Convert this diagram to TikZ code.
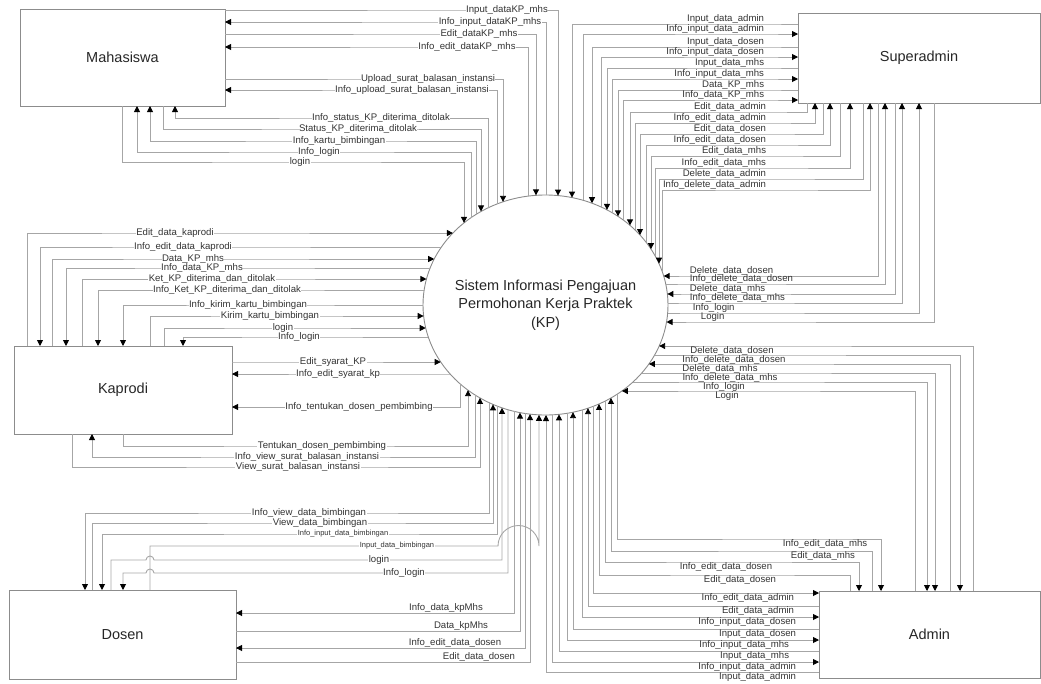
\documentclass[tikz,border=0pt]{standalone}
\usepackage{fontspec}
\setmainfont{Liberation Sans}
\usetikzlibrary{arrows.meta, shapes.geometric}

\tikzset{
  entity/.style={draw=black!45, line width=0.9pt, outer sep=0pt, text=black!85, font=\fontsize{14.5}{16}\selectfont},
  process/.style={ellipse, draw=black!45, line width=0.9pt, outer sep=0pt, inner sep=0pt, minimum width=245pt, minimum height=220pt},
  flow/.style={draw=black!35, line width=0.9pt, -{Triangle[length=6pt, width=6pt, color=black]}},
  lab/.style={font=\fontsize{9.6}{10}\selectfont, text=black!80, fill=white, inner sep=0.5pt},
  labo/.style={font=\fontsize{9.6}{10}\selectfont, text=black!80, inner sep=0.5pt},
}

\begin{document}
\begin{tikzpicture}[x=1pt, y=-1pt,
  declare function={
    sisT(\x)=305-110*sqrt(1-(\x-545.5)*(\x-545.5)/15006.25);
    sisB(\x)=305+110*sqrt(1-(\x-545.5)*(\x-545.5)/15006.25);
    sisL(\y)=545.5-122.5*sqrt(1-(\y-305)*(\y-305)/12100);
    sisR(\y)=545.5+122.5*sqrt(1-(\y-305)*(\y-305)/12100);
  }]
\useasboundingbox (0,0) rectangle (1041,683);

\node[process] (sis) at (545.5,305) {};
\node[align=center, text=black!85, font=\fontsize{14.5}{18.5}\selectfont] (sistxt) at (sis.center) {Sistem Informasi Pengajuan\\Permohonan Kerja Praktek\\(KP)};
\node[entity, minimum width=205pt, minimum height=97pt] (mhs) at (122.5,57.5) {Mahasiswa};
\node[entity, minimum width=242pt, minimum height=90pt] (sa) at (919,58) {Superadmin};
\node[entity, minimum width=218pt, minimum height=88pt] (kap) at (123,390) {Kaprodi};
\node[entity, minimum width=227pt, minimum height=89pt] (dos) at (122.5,634.5) {Dosen};
\node[entity, minimum width=221pt, minimum height=87pt] (adm) at (929.5,634.5) {Admin};

% Mahasiswa
\draw[flow] (mhs.east |- 0,10) -- (507,10) node[lab]{Input\_dataKP\_mhs} -- (558,10) -- (558,{sisT(558)});
\draw[flow] (546,{sisT(546)}) -- (546,22) -- (490,22) node[lab]{Info\_input\_dataKP\_mhs} -- (mhs.east |- 0,22);
\draw[flow] (mhs.east |- 0,34) -- (479,34) node[lab]{Edit\_dataKP\_mhs} -- (536,34) -- (536,{sisT(536)});
\draw[flow] (528,{sisT(528)}) -- (528,47) -- (467,47) node[lab]{Info\_edit\_dataKP\_mhs} -- (mhs.east |- 0,47);
\draw[flow] (mhs.east |- 0,79) -- (428,79) node[lab]{Upload\_surat\_balasan\_instansi} -- (503,79) -- (503,{sisT(503)});
\draw[flow] (497,{sisT(497)}) -- (497,90) -- (412,90) node[lab]{Info\_upload\_surat\_balasan\_instansi} -- (mhs.east |- 0,90);
\draw[flow] (488,{sisT(488)}) -- (488,118) -- (381,118) node[lab]{Info\_status\_KP\_diterima\_ditolak} -- (175,118) -- (mhs.south -| 175,0);
\draw[flow] (mhs.south -| 163,0) -- (163,129) -- (358,129) node[lab]{Status\_KP\_diterima\_ditolak} -- (481,129) -- (481,{sisT(481)});
\draw[flow] (476,{sisT(476)}) -- (476,141) -- (339,141) node[lab]{Info\_kartu\_bimbingan} -- (150,141) -- (mhs.south -| 150,0);
\draw[flow] (471,{sisT(471)}) -- (471,152) -- (319,152) node[lab]{Info\_login} -- (137,152) -- (mhs.south -| 137,0);
\draw[flow] (mhs.south -| 122,0) -- (122,162) -- (300,162) node[lab]{login} -- (464,162) -- (464,{sisT(464)});

% Superadmin
\draw[flow] (sa.west |- 0,24) -- (765,24) node[labo, above left]{Input\_data\_admin} -- (572,24) -- (572,{sisT(572)});
\draw[flow] (583,{sisT(583)}) -- (583,34) -- (765,34) node[labo, above left]{Info\_input\_data\_admin} -- (sa.west |- 0,34);
\draw[flow] (sa.west |- 0,47) -- (765,47) node[labo, above left]{Input\_data\_dosen} -- (592,47) -- (592,{sisT(592)});
\draw[flow] (601,{sisT(601)}) -- (601,57) -- (765,57) node[labo, above left]{Info\_input\_data\_dosen} -- (sa.west |- 0,57);
\draw[flow] (sa.west |- 0,68) -- (765,68) node[labo, above left]{Input\_data\_mhs} -- (607,68) -- (607,{sisT(607)});
\draw[flow] (612,{sisT(612)}) -- (612,79) -- (765,79) node[labo, above left]{Info\_input\_data\_mhs} -- (sa.west |- 0,79);
\draw[flow] (sa.west |- 0,90) -- (765,90) node[labo, above left]{Data\_KP\_mhs} -- (618,90) -- (618,{sisT(618)});
\draw[flow] (623,{sisT(623)}) -- (623,100) -- (765,100) node[labo, above left]{Info\_data\_KP\_mhs} -- (sa.west |- 0,100);

\draw[flow] (sa.south -| 807,0) -- (807,112) -- (767,112) node[labo, above left]{Edit\_data\_admin} -- (630,112) -- (630,{sisT(630)});
\draw[flow] (635,{sisT(635)}) -- (635,123) -- (767,123) node[labo, above left]{Info\_edit\_data\_admin} -- (815,123) -- (sa.south -| 815,0);
\draw[flow] (sa.south -| 823,0) -- (823,134) -- (767,134) node[labo, above left]{Edit\_data\_dosen} -- (640,134) -- (640,{sisT(640)});
\draw[flow] (646,{sisT(646)}) -- (646,145) -- (767,145) node[labo, above left]{Info\_edit\_data\_dosen} -- (830,145) -- (sa.south -| 830,0);
\draw[flow] (sa.south -| 840,0) -- (840,156) -- (767,156) node[labo, above left]{Edit\_data\_mhs} -- (651,156) -- (651,{sisT(651)});
\draw[flow] (655,{sisT(655)}) -- (655,168) -- (767,168) node[labo, above left]{Info\_edit\_data\_mhs} -- (850,168) -- (sa.south -| 850,0);
\draw[flow] (sa.south -| 863,0) -- (863,179) -- (767,179) node[labo, above left]{Delete\_data\_admin} -- (659,179) -- (659,{sisT(659)});
\draw[flow] (662,{sisT(662)}) -- (662,190) -- (767,190) node[labo, above left]{Info\_delete\_data\_admin} -- (870,190) -- (sa.south -| 870,0);

\draw[flow] (sa.south -| 878,0) -- (878,276) -- (689,276) node[labo, above right]{Delete\_data\_dosen} -- ({sisR(276)},276);
\draw[flow] ({sisR(284)},284) -- (689,284) node[labo, above right]{Info\_delete\_data\_dosen} -- (885,284) -- (sa.south -| 885,0);
\draw[flow] (sa.south -| 895,0) -- (895,294) -- (689,294) node[labo, above right]{Delete\_data\_mhs} -- ({sisR(294)},294);
\draw[flow] ({sisR(303)},303) -- (689,303) node[labo, above right]{Info\_delete\_data\_mhs} -- (902,303) -- (sa.south -| 902,0);
\draw[flow] ({sisR(313)},313) -- (692,313) node[labo, above right]{Info\_login} -- (919,313) -- (sa.south -| 919,0);
\draw[flow] (sa.south -| 934,0) -- (934,322) -- (700,322) node[labo, above right]{Login} -- ({sisR(322)},322);

% Admin
\draw[flow] (adm.north -| 973,0) -- (973,346) -- (732,346) node[labo, below]{Delete\_data\_dosen} -- ({sisR(346)},346);
\draw[flow] ({sisR(355)},355) -- (734,355) node[labo, below]{Info\_delete\_data\_dosen} -- (960,355) -- (adm.north -| 960,0);
\draw[flow] (adm.north -| 950,0) -- (950,364) -- (720,364) node[labo, below]{Delete\_data\_mhs} -- ({sisR(364)},364);
\draw[flow] ({sisR(373)},373) -- (730,373) node[labo, below]{Info\_delete\_data\_mhs} -- (935,373) -- (adm.north -| 935,0);
\draw[flow] ({sisR(382)},382) -- (724,382) node[labo, below]{Info\_login} -- (927,382) -- (adm.north -| 927,0);
\draw[flow] (adm.north -| 915,0) -- (915,391) -- (727,391) node[labo, below]{Login} -- ({sisR(391)},391);

\draw[flow] (617,{sisB(617)}) -- (617,539) -- (825,539) node[labo, below]{Info\_edit\_data\_mhs} -- (881,539) -- (adm.north -| 881,0);
\draw[flow] (adm.north -| 872,0) -- (872,551) -- (823,551) node[labo, below]{Edit\_data\_mhs} -- (611,551) -- (611,{sisB(611)});
\draw[flow] (605,{sisB(605)}) -- (605,562) -- (726,562) node[labo, below]{Info\_edit\_data\_dosen} -- (859,562) -- (adm.north -| 859,0);
\draw[flow] (adm.north -| 850,0) -- (850,575) -- (740,575) node[labo, below]{Edit\_data\_dosen} -- (599,575) -- (599,{sisB(599)});

\draw[flow] (593,{sisB(593)}) -- (593,593) -- (795,593) node[labo, below left]{Info\_edit\_data\_admin} -- (adm.west |- 0,593);
\draw[flow] (adm.west |- 0,606) -- (795,606) node[labo, below left]{Edit\_data\_admin} -- (588,606) -- (588,{sisB(588)});
\draw[flow] (582,{sisB(582)}) -- (582,617) -- (797,617) node[labo, below left]{Info\_input\_data\_dosen} -- (adm.west |- 0,617);
\draw[flow] (adm.west |- 0,629) -- (797,629) node[labo, below left]{Input\_data\_dosen} -- (573,629) -- (573,{sisB(573)});
\draw[flow] (567,{sisB(567)}) -- (567,640) -- (790,640) node[labo, below left]{Info\_input\_data\_mhs} -- (adm.west |- 0,640);
\draw[flow] (adm.west |- 0,651) -- (790,651) node[labo, below left]{Input\_data\_mhs} -- (559,651) -- (559,{sisB(559)});
\draw[flow] (552,{sisB(552)}) -- (552,662) -- (797,662) node[labo, below left]{Info\_input\_data\_admin} -- (adm.west |- 0,662);
\draw[flow] (adm.west |- 0,672) -- (797,672) node[labo, below left]{Input\_data\_admin} -- (546,672) -- (546,{sisB(546)});

% Kaprodi
\draw[flow] (kap.north -| 27,0) -- (27,233) -- (175,233) node[lab]{Edit\_data\_kaprodi} -- ({sisL(233)},233);
\draw[flow] ({sisL(247)},247) -- (183,247) node[lab]{Info\_edit\_data\_kaprodi} -- (40,247) -- (kap.north -| 40,0);
\draw[flow] (kap.north -| 52,0) -- (52,259) -- (193,259) node[lab]{Data\_KP\_mhs} -- ({sisL(259)},259);
\draw[flow] ({sisL(268)},268) -- (202,268) node[lab]{Info\_data\_KP\_mhs} -- (66,268) -- (kap.north -| 66,0);
\draw[flow] (kap.north -| 82,0) -- (82,279) -- (212,279) node[lab]{Ket\_KP\_diterima\_dan\_ditolak} -- ({sisL(279)},279);
\draw[flow] ({sisL(290)},290) -- (227,290) node[lab]{Info\_Ket\_KP\_diterima\_dan\_ditolak} -- (98,290) -- (kap.north -| 98,0);
\draw[flow] ({sisL(305)},305) -- (248,305) node[lab]{Info\_kirim\_kartu\_bimbingan} -- (123,305) -- (kap.north -| 123,0);
\draw[flow] (kap.north -| 150,0) -- (150,316) -- (270,316) node[lab]{Kirim\_kartu\_bimbingan} -- ({sisL(316)},316);
\draw[flow] (kap.north -| 164,0) -- (164,328) -- (283,328) node[lab]{login} -- ({sisL(328)},328);
\draw[flow] ({sisL(337)},337) -- (299,337) node[lab]{Info\_login} -- (183,337) -- (kap.north -| 183,0);

\draw[flow] (kap.east |- 0,362) -- (333,362) node[lab]{Edit\_syarat\_KP} -- ({sisL(362)},362);
\draw[flow] ({sisL(374)},374) -- (338,374) node[lab]{Info\_edit\_syarat\_kp} -- (kap.east |- 0,374);
\draw[flow] (460,{sisB(460)}) -- (460,407) -- (359,407) node[lab]{Info\_tentukan\_dosen\_pembimbing} -- (kap.east |- 0,407);
\draw[flow] (kap.south -| 123,0) -- (123,446) -- (322,446) node[lab]{Tentukan\_dosen\_pembimbing} -- (468,446) -- (468,{sisB(468)});
\draw[flow] (475,{sisB(475)}) -- (475,457) -- (307,457) node[lab]{Info\_view\_surat\_balasan\_instansi} -- (92,457) -- (kap.south -| 92,0);
\draw[flow] (kap.south -| 72,0) -- (72,467) -- (298,467) node[lab]{View\_surat\_balasan\_instansi} -- (480,467) -- (480,{sisB(480)});

% Dosen
\draw[flow] (489,{sisB(489)}) -- (489,513) -- (309,513) node[lab]{Info\_view\_data\_bimbingan} -- (85,513) -- (dos.north -| 85,0);
\draw[flow] (dos.north -| 92,0) -- (92,523) -- (320,523) node[lab]{View\_data\_bimbingan} -- (493,523) -- (493,{sisB(493)});
\draw[flow] (497,{sisB(497)}) -- (497,534) -- (343,534) node[lab, font=\fontsize{7.5}{8}\selectfont]{Info\_input\_data\_bimbingan} -- (102,534) -- (dos.north -| 102,0);
\draw[flow] (dos.north -| 150,0) -- (150,546) -- (397,546) node[lab, font=\fontsize{7.5}{8}\selectfont]{Input\_data\_bimbingan} -- (498,546) arc[start angle=180, end angle=0, radius=20.5pt] -- (539,{sisB(539)});
\draw[flow] (dos.north -| 111,0) -- (111,560) -- (146,560) arc[start angle=180, end angle=0, radius=4pt] -- (379,560) node[lab]{login} -- (502,560) -- (502,{sisB(502)});
\draw[flow] (508,{sisB(508)}) -- (508,573) -- (404,573) node[lab]{Info\_login} -- (154,573) arc[start angle=0, end angle=180, radius=4pt] -- (123,573) -- (dos.north -| 123,0);
\draw[flow] (514,{sisB(514)}) -- (514,613) -- (446,613) node[labo, above]{Info\_data\_kpMhs} -- (dos.east |- 0,613);
\draw[flow] (dos.east |- 0,631) -- (461,631) node[labo, above]{Data\_kpMhs} -- (520,631) -- (520,{sisB(520)});
\draw[flow] (525,{sisB(525)}) -- (525,648) -- (455,648) node[labo, above]{Info\_edit\_data\_dosen} -- (dos.east |- 0,648);
\draw[flow] (dos.east |- 0,662) -- (479,662) node[labo, above]{Edit\_data\_dosen} -- (530,662) -- (530,{sisB(530)});

\end{tikzpicture}
\end{document}
